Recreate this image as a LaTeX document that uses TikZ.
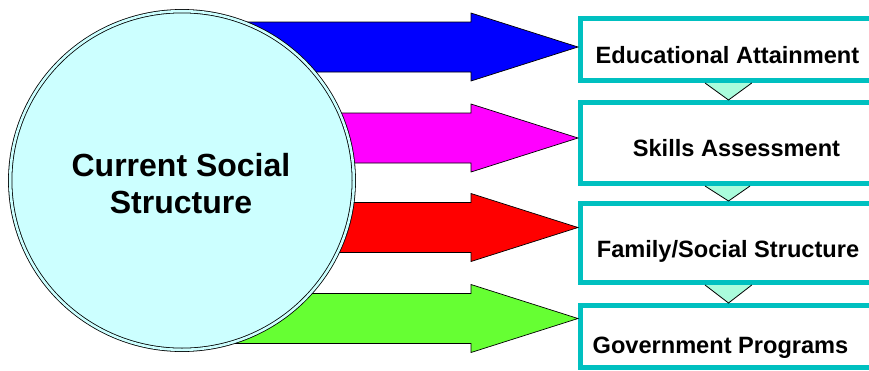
\documentclass[tikz,border=0pt]{standalone}
\usepackage{fontspec}
\setmainfont{Liberation Sans}
\usetikzlibrary{shapes.geometric,calc}
\definecolor{circfill}{HTML}{CCFFFF}
\definecolor{boxline}{HTML}{00C0C0}
\definecolor{trifill}{HTML}{AAFCDC}
\definecolor{ablue}{HTML}{0000FF}
\definecolor{amagenta}{HTML}{FF00FF}
\definecolor{ared}{HTML}{FF0000}
\definecolor{agreen}{HTML}{66FF33}
\begin{document}
\begin{tikzpicture}[x=1pt,y=-1pt,
  box/.style={draw=boxline, line width=5pt, fill=white, rectangle, inner sep=0pt, minimum width=309.5pt},
  btext/.style={font=\bfseries\fontsize{23.6}{28}\selectfont, inner sep=0pt, anchor=base},
  tri/.style={fill=trifill, draw=black, line width=0.8pt},
  pics/blockarrow/.style={code={\draw[line width=0.7pt, line join=miter, fill=#1]
     (0,0) -- (-107,-34) -- (-107,-25) -- (-348,-25) -- (-348,25) -- (-107,25) -- (-107,34) -- cycle;}}]
\useasboundingbox (0,0) rectangle (869,370);
% boxes
\node[box, minimum height=62pt] (b1) at (735.25,49.5) {};
\node[box, minimum height=81pt] (b2) at (735.25,143) {};
\node[box, minimum height=79pt] (b3) at (735.25,243) {};
\node[box, minimum height=62pt] (b4) at (735.25,336.5) {};
% connector triangles
\filldraw[tri] ($(b1.south)+(16.5,0)$) -- ($(b2.north)+(-6.75,0)$) -- ($(b1.south)+(-30.25,0)$);
\filldraw[tri] ($(b2.south)+(14.75,0)$) -- ($(b3.north)+(-6.75,0)$) -- ($(b2.south)+(-30.25,0)$);
\filldraw[tri] ($(b3.south)+(16.5,0)$) -- ($(b4.north)+(-6.75,0)$) -- ($(b3.south)+(-30.25,0)$);
% arrow tips
\coordinate (tip1) at ($(b1.west)+(0,-2.5)$);
\coordinate (tip2) at ($(b2.west)+(0,-5)$);
\coordinate (tip3) at ($(b3.west)+(0,-15.5)$);
\coordinate (tip4) at ($(b4.west)+(0,-18)$);
\pic at (tip1) {blockarrow=ablue};
\pic at (tip2) {blockarrow=amagenta};
\pic at (tip3) {blockarrow=ared};
\pic at (tip4) {blockarrow=agreen};
% circle
\node[ellipse, draw=black, line width=0.8pt, double=circfill, double distance=2.6pt,
      fill=circfill, minimum width=343.6pt, minimum height=338.6pt, inner sep=0pt] (c) at (182,180.5) {};
\node[font=\bfseries\fontsize{32}{37}\selectfont, align=center, inner sep=0pt] (ct) at (181,184) {Current Social\\Structure};
% box texts
\node[btext] (t1) at (727.5,63) {Educational Attainment};
\node[btext] (t2) at (736.5,156) {Skills Assessment};
\node[btext] (t3) at (728,257) {Family/Social Structure};
\node[btext] (t4) at (720.5,353) {Government Programs};
\end{tikzpicture}
\end{document}
